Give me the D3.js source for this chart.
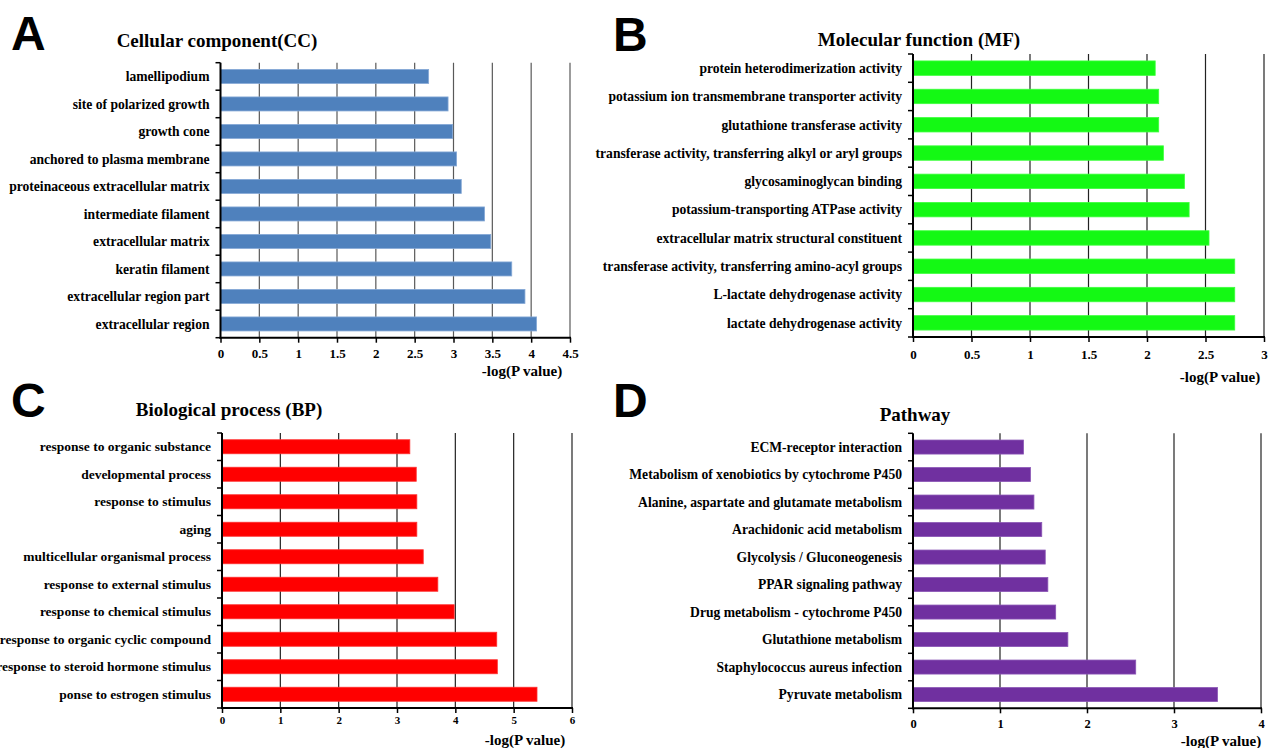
<!DOCTYPE html>
<html>
<head>
<meta charset="utf-8">
<script src="https://cdn.jsdelivr.net/npm/d3@7"></script>
<style>
  html, body { margin: 0; padding: 0; background: #fff; overflow: hidden; }
  svg { display: block; }
</style>
</head>
<body>
<svg id="chart" width="1276" height="748"></svg>
<script>
// ---------- DATA ----------
const ccCategories = ["lamellipodium", "site of polarized growth", "growth cone", "anchored to plasma membrane",
  "proteinaceous extracellular matrix", "intermediate filament", "extracellular matrix ", "keratin filament",
  "extracellular region part", "extracellular region"];
const ccValues = [2.68, 2.93, 2.99, 3.04, 3.10, 3.40, 3.48, 3.75, 3.92, 4.07];
const ccTicks = [0, 0.5, 1, 1.5, 2, 2.5, 3, 3.5, 4, 4.5];

const mfCategories = ["protein heterodimerization activity", "potassium ion transmembrane transporter activity",
  "glutathione transferase activity", "transferase activity, transferring alkyl or aryl groups",
  "glycosaminoglycan binding", "potassium-transporting ATPase activity", "extracellular matrix structural constituent",
  "transferase activity, transferring amino-acyl groups", "L-lactate dehydrogenase activity", "lactate dehydrogenase activity"];
const mfValues = [2.07, 2.10, 2.10, 2.14, 2.32, 2.36, 2.53, 2.75, 2.75, 2.75];
const mfTicks = [0, 0.5, 1, 1.5, 2, 2.5, 3];

const bpCategories = ["response to organic substance", "developmental process", "response to stimulus", "aging",
  "multicellular organismal process", "response to external stimulus", "response to chemical stimulus",
  "response to organic cyclic compound", "response to steroid hormone stimulus", "ponse to estrogen stimulus"];
const bpValues = [3.22, 3.33, 3.34, 3.34, 3.45, 3.70, 3.98, 4.71, 4.72, 5.40];
const bpTicks = [0, 1, 2, 3, 4, 5, 6];

const pwCategories = ["ECM-receptor interaction", "Metabolism of xenobiotics by cytochrome P450",
  "Alanine, aspartate and glutamate metabolism", "Arachidonic acid metabolism", "Glycolysis / Gluconeogenesis",
  "PPAR signaling pathway", "Drug metabolism - cytochrome P450", "Glutathione metabolism",
  "Staphylococcus aureus infection", "Pyruvate metabolism"];
const pwValues = [1.27, 1.35, 1.39, 1.48, 1.52, 1.55, 1.64, 1.78, 2.56, 3.50];
const pwTicks = [0, 1, 2, 3, 4];

const panelLetters = ["A", "B", "C", "D"];
const panelTitles = ["Cellular component(CC)", "Molecular function (MF)", "Biological process (BP)", "Pathway"];
const axisTitle = "-log(P value)";

// ---------- LAYOUT ----------
const svg = d3.select("#chart");
const serif = "'Liberation Serif', 'Times New Roman', serif";
const sans = "'Liberation Sans', Arial, sans-serif";

const panels = [
  { cats: ccCategories, vals: ccValues, ticks: ccTicks, letter: panelLetters[0], title: panelTitles[0],
    x0: 220.5, x1: 570, top: 62.7, bottom: 337.7, fill: "#4f81bd", stroke: "#86a9d6", grid: "#595959",
    titleX: 217, titleY: 47, letterX: 11, letterY: 50, xlabX: 522, xlabY: 376,
    tickFont: 13, tickY: 358, labelFont: 13.6 },
  { cats: mfCategories, vals: mfValues, ticks: mfTicks, letter: panelLetters[1], title: panelTitles[1],
    x0: 913, x1: 1264, top: 54, bottom: 337, fill: "#14f914", stroke: "#3cff3c", grid: "#222",
    titleX: 919, titleY: 46, letterX: 613, letterY: 51, xlabX: 1220, xlabY: 382,
    tickFont: 13, tickY: 359, labelFont: 13.6 },
  { cats: bpCategories, vals: bpValues, ticks: bpTicks, letter: panelLetters[2], title: panelTitles[2],
    x0: 222, x1: 572, top: 433, bottom: 708, fill: "#ff0000", stroke: "#ff3030", grid: "#222",
    titleX: 229, titleY: 416, letterX: 11, letterY: 417, xlabX: 525, xlabY: 745,
    tickFont: 11, tickY: 724, labelFont: 13.5 },
  { cats: pwCategories, vals: pwValues, ticks: pwTicks, letter: panelLetters[3], title: panelTitles[3],
    x0: 913, x1: 1261, top: 433.3, bottom: 708.3, fill: "#7030a0", stroke: "#8a55b5", grid: "#222",
    titleX: 915, titleY: 421, letterX: 613, letterY: 417, xlabX: 1221, xlabY: 746,
    tickFont: 12.5, tickY: 728, labelFont: 13.6 }
];

panels.forEach(p => {
  const g = svg.append("g");
  const x = d3.scaleLinear()
    .domain([p.ticks[0], p.ticks[p.ticks.length - 1]])
    .range([p.x0, p.x1]);
  const y = d3.scaleBand()
    .domain(p.cats)
    .range([p.top, p.bottom])
    .paddingInner(0.49)
    .paddingOuter(0.245);
  const step = (p.bottom - p.top) / p.cats.length;

  // gridlines
  g.append("g").selectAll("line")
    .data(p.ticks.filter(t => t > 0))
    .join("line")
    .attr("x1", d => x(d)).attr("x2", d => x(d))
    .attr("y1", p.top).attr("y2", p.bottom)
    .attr("stroke", p.grid).attr("stroke-width", 1.2);

  // bars
  g.append("g").selectAll("rect")
    .data(p.cats.map((c, i) => ({ c, v: p.vals[i] })))
    .join("rect")
    .attr("x", x(0))
    .attr("y", d => y(d.c))
    .attr("width", d => x(d.v) - x(0))
    .attr("height", y.bandwidth())
    .attr("fill", p.fill)
    .attr("stroke", p.stroke)
    .attr("stroke-width", 0.8);

  // bottom axis
  const xAxis = d3.axisBottom(x)
    .tickValues(p.ticks)
    .tickSize(5)
    .tickSizeOuter(0)
    .tickFormat(d => d3.format("")(d));
  const ax = g.append("g")
    .attr("transform", `translate(0,${p.bottom})`)
    .call(xAxis);
  ax.select(".domain").attr("stroke", "#000").attr("stroke-width", 2).attr("d", `M${p.x0 - 1},0H${p.x1 + 1}`);
  ax.selectAll(".tick line").attr("stroke", "#000").attr("stroke-width", 1.5);
  ax.selectAll(".tick text")
    .attr("y", p.tickY - p.bottom)
    .attr("dy", 0)
    .attr("font-family", serif)
    .attr("font-weight", "bold")
    .attr("font-size", p.tickFont)
    .attr("fill", "#000");

  // left axis: line + ticks at band boundaries
  g.append("line")
    .attr("x1", p.x0).attr("x2", p.x0)
    .attr("y1", p.top).attr("y2", p.bottom + 1)
    .attr("stroke", "#000").attr("stroke-width", 2);
  g.append("g").selectAll("line")
    .data(d3.range(p.cats.length + 1))
    .join("line")
    .attr("x1", p.x0 - 5).attr("x2", p.x0)
    .attr("y1", i => p.top + i * step).attr("y2", i => p.top + i * step)
    .attr("stroke", "#000").attr("stroke-width", 1.5);

  // category labels
  g.append("g").selectAll("text")
    .data(p.cats)
    .join("text")
    .attr("x", p.x0 - 11)
    .attr("y", d => y(d) + y.bandwidth() / 2)
    .attr("dy", "0.35em")
    .attr("text-anchor", "end")
    .attr("font-family", serif)
    .attr("font-weight", "bold")
    .attr("font-size", p.labelFont)
    .attr("fill", "#000")
    .text(d => d);

  // title
  g.append("text")
    .attr("x", p.titleX).attr("y", p.titleY)
    .attr("text-anchor", "middle")
    .attr("font-family", serif).attr("font-weight", "bold").attr("font-size", 19)
    .text(p.title);

  // panel letter
  g.append("text")
    .attr("x", p.letterX).attr("y", p.letterY)
    .attr("font-family", sans).attr("font-weight", "bold").attr("font-size", 48)
    .text(p.letter);

  // x-axis title
  g.append("text")
    .attr("x", p.xlabX).attr("y", p.xlabY)
    .attr("text-anchor", "middle")
    .attr("font-family", serif).attr("font-weight", "bold").attr("font-size", 15)
    .text(axisTitle);
});
</script>
</body>
</html>
